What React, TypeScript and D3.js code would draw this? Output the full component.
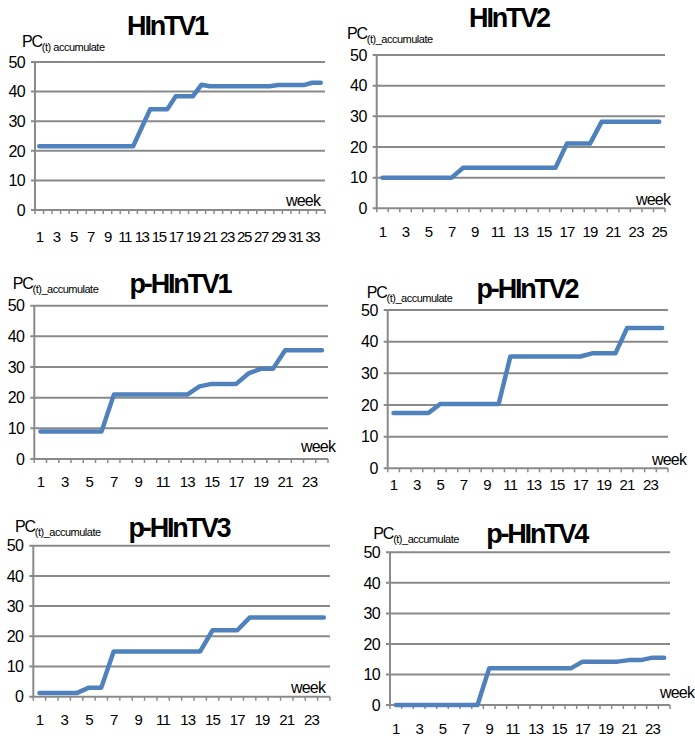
import React from 'react';
import * as d3 from 'd3';

// weekly accumulated PC values
const hintv1 = [21.5, 21.5, 21.5, 21.5, 21.5, 21.5, 21.5, 21.5, 21.5, 21.5, 21.5, 21.5,
  27.8, 34, 34, 34, 38.4, 38.4, 38.4, 42.3, 41.8, 41.8, 41.8, 41.8, 41.8, 41.8, 41.8, 41.8,
  42.2, 42.2, 42.2, 42.2, 43, 43];
const hintv2 = [10, 10, 10, 10, 10, 10, 10, 13.2, 13.2, 13.2, 13.2, 13.2, 13.2, 13.2, 13.2, 13.2,
  21.1, 21.1, 21.1, 28.2, 28.2, 28.2, 28.2, 28.2, 28.2];
const phintv1 = [9, 9, 9, 9, 9, 9, 21, 21, 21, 21, 21, 21, 21, 23.7, 24.5, 24.5, 24.5, 27.9,
  29.4, 29.4, 35.5, 35.5, 35.5, 35.5];
const phintv2 = [17.5, 17.5, 17.5, 17.5, 20.3, 20.3, 20.3, 20.3, 20.3, 20.3, 35.3, 35.3, 35.3,
  35.3, 35.3, 35.3, 35.3, 36.3, 36.3, 36.3, 44.3, 44.3, 44.3, 44.3];
const phintv3 = [1.2, 1.2, 1.2, 1.2, 3, 3, 15, 15, 15, 15, 15, 15, 15, 15, 22, 22, 22, 26.2,
  26.2, 26.2, 26.2, 26.2, 26.2, 26.2];
const phintv4 = [0, 0, 0, 0, 0, 0, 0, 0, 12, 12, 12, 12, 12, 12, 12, 12, 14.2, 14.2, 14.2, 14.2,
  14.7, 14.7, 15.5, 15.5];

const titles = ['HInTV1', 'HInTV2', 'p-HInTV1', 'p-HInTV2', 'p-HInTV3', 'p-HInTV4'];
const subLabels = ['(t) accumulate', '(t)_accumulate', '(t)_accumulate', '(t)_accumulate',
  '(t)_accumulate', '(t)_accumulate'];
const yTicks = [0, 10, 20, 30, 40, 50];
const series = [hintv1, hintv2, phintv1, phintv2, phintv3, phintv4];

// panel placement on the page
const layout = [
  { left: 35, right: 325, top: 62, bottom: 210, tx: 167, ty: 35, px: 22, py: 47, xl: 237, wx: 286, wy: 206 },
  { left: 376.7, right: 665, top: 55, bottom: 208.3, tx: 509, ty: 27, px: 347, py: 39, xl: 232, wx: 636, wy: 205 },
  { left: 34.3, right: 328, top: 305.7, bottom: 459, tx: 180, ty: 293, px: 12.7, py: 289, xl: 482, wx: 301, wy: 452 },
  { left: 387.7, right: 668, top: 310, bottom: 468.3, tx: 527, ty: 298, px: 366.7, py: 297.7, xl: 485, wx: 652, wy: 465 },
  { left: 33.3, right: 330, top: 545.7, bottom: 696.7, tx: 179, ty: 536.7, px: 15, py: 531.7, xl: 720, wx: 291, wy: 693 },
  { left: 390, right: 670, top: 552.3, bottom: 705, tx: 536.7, ty: 543.3, px: 373.3, py: 539.3, xl: 729, wx: 660, wy: 698 },
];

const font = '"Liberation Sans", Arial, sans-serif';
const gridColor = '#8a8a8a';
const lineColor = '#4f81bd';

const Panel = ({ idx }: { idx: number }) => {
  const L = layout[idx];
  const values = series[idx];
  const weeks = values.map((_, i) => i + 1);

  const x = d3.scaleBand<number>().domain(weeks).range([L.left, L.right]).padding(0);
  const y = d3.scaleLinear().domain([0, 50]).range([L.bottom, L.top]);
  const cx = (w: number) => (x(w) as number) + x.bandwidth() / 2;

  const line = d3.line<number>()
    .x((_, i) => cx(weeks[i]))
    .y(d => y(d));

  const bounds = weeks.map(w => x(w) as number).concat([L.right]);
  const dense = values.length > 30;

  return (
    <g>
      {yTicks.map(t => (
        <g key={'g' + t}>
          <line x1={L.left - 4} x2={L.right} y1={y(t)} y2={y(t)} stroke={gridColor} strokeWidth={2} />
          <text x={L.left - 10} y={y(t)} dy="0.36em" textAnchor="end" fontSize={16}
            letterSpacing={-0.6} fill="#000">{t}</text>
        </g>
      ))}
      <line x1={L.left} x2={L.left} y1={L.top} y2={L.bottom + 1} stroke={gridColor} strokeWidth={2} />
      {bounds.map((b, i) => (
        <line key={'t' + i} x1={b} x2={b} y1={L.bottom} y2={L.bottom + 4} stroke={gridColor} strokeWidth={1.5} />
      ))}
      {weeks.filter(w => w % 2 === 1).map(w => (
        <text key={'x' + w} x={cx(w)} y={L.xl} dy="0.36em" textAnchor="middle" fontSize={15}
          letterSpacing={dense ? -1.4 : -0.8} fill="#000">{w}</text>
      ))}
      <path d={line(values) || ''} fill="none" stroke={lineColor} strokeWidth={4.5}
        strokeLinejoin="round" strokeLinecap="round" />
      <text x={L.tx} y={L.ty} textAnchor="middle" fontSize={27} fontWeight="bold"
        letterSpacing={-2.2} fill="#000">{titles[idx]}</text>
      <text x={L.px} y={L.py} fontSize={16} letterSpacing={-1.2} fill="#000">
        PC<tspan fontSize={11} dy={4} letterSpacing={-0.5}>{subLabels[idx]}</tspan>
      </text>
      <text x={L.wx} y={L.wy} fontSize={16} letterSpacing={-0.8} fill="#000">week</text>
    </g>
  );
};

export default function App() {
  return (
    <svg width={695} height={736} style={{ position: 'absolute', left: 0, top: 0, fontFamily: font }}>
      <rect width={695} height={736} fill="#fff" />
      {titles.map((_, i) => <Panel key={i} idx={i} />)}
    </svg>
  );
}
